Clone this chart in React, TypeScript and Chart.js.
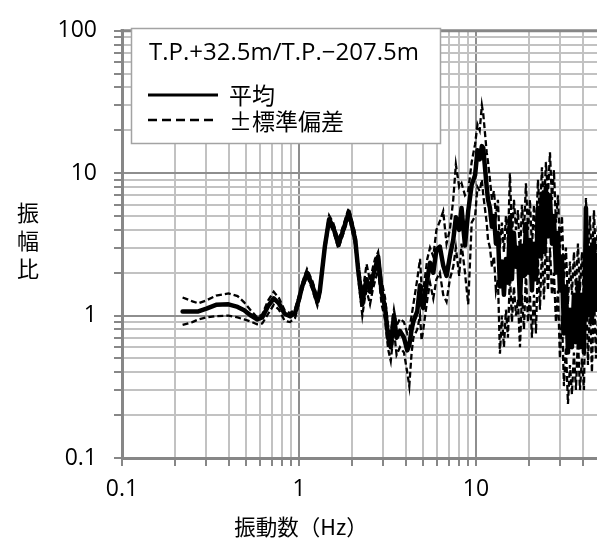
import React, { useEffect, useRef } from 'react';
import { Chart, registerables } from 'chart.js';

Chart.register(...registerables);

// Frequency grid (Hz) shared by the three curves
const freq = [
  0.22, 0.25, 0.27, 0.30, 0.34, 0.40, 0.45, 0.49, 0.53, 0.58, 0.62, 0.67, 0.72, 0.77, 0.83, 0.89, 0.95,
  1.00, 1.04, 1.11, 1.19, 1.27, 1.31, 1.40, 1.48, 1.56, 1.67, 1.78, 1.91, 1.98, 2.08, 2.16, 2.28, 2.35,
  2.41, 2.52, 2.62, 2.69, 2.80, 2.93, 3.06, 3.19, 3.30, 3.44, 3.56, 3.72, 3.92, 4.09, 4.20, 4.33, 4.43,
  4.66, 4.83, 4.93, 5.04, 5.31, 5.50, 5.74, 5.98, 6.25, 6.53, 6.82, 7.12, 7.44, 7.70, 8.04, 8.29, 8.67,
  9.04, 9.46, 9.89, 10.2, 10.5, 10.8, 11.0, 11.5, 11.7,
  12.0, 12.31, 12.64, 12.97, 13.31, 13.66, 14.02, 14.39, 14.77, 15.16, 15.56,
  15.97, 16.39, 16.83, 17.27, 17.73, 18.19, 18.67, 19.16, 19.67, 20.19, 20.72,
  21.27, 21.83, 22.40, 22.99, 23.60, 24.22, 24.86, 25.51, 26.19, 26.88, 27.58,
  28.31, 29.06, 29.82, 30.61, 31.42, 32.25, 33.10, 33.97, 34.86, 35.78, 36.73,
  37.69, 38.69, 39.71, 40.75, 41.83, 42.93, 44.06, 45.22, 46.42, 47.64, 48.90,
];

// Average spectral ratio
const meanRatio = [
  1.07, 1.07, 1.07, 1.12, 1.19, 1.20, 1.15, 1.09, 1.01, 0.94, 0.97, 1.17, 1.32, 1.22, 1.03, 0.99, 1.04,
  1.30, 1.59, 2.00, 1.63, 1.25, 1.47, 3.05, 4.75, 4.20, 3.15, 4.00, 5.30, 4.45, 3.40, 2.10, 1.20, 1.55,
  1.80, 1.47, 1.90, 2.12, 2.60, 1.47, 1.15, 0.70, 0.60, 1.00, 0.70, 0.78, 0.70, 0.57, 0.62, 0.80, 0.91,
  1.07, 1.63, 1.20, 1.13, 1.80, 2.35, 2.00, 2.90, 3.05, 2.25, 1.90, 2.60, 3.40, 4.90, 4.00, 5.70, 3.10,
  5.40, 8.30, 9.70, 14.5, 12.5, 15.5, 15.0, 8.00, 6.50,
  5.7, 4.2, 5.0, 3.2, 3.8, 1.6, 2.4, 1.4, 2.5, 1.7, 4.9,
  1.8, 3.8, 2.2, 3.0, 1.2, 3.1, 1.9, 4.4, 2.0, 3.4, 1.5,
  3.2, 1.8, 5.7, 2.6, 7.2, 2.8, 8.0, 3.6, 7.0, 3.2, 5.0,
  2.0, 3.8, 1.5, 2.6, 0.75, 1.6, 0.55, 1.1, 0.6, 1.4, 0.65,
  1.7, 0.6, 1.4, 0.55, 5.7, 1.0, 3.0, 0.9, 3.4, 1.1, 2.6,
];

// Average + one standard deviation
const upperRatio = [
  1.34, 1.26, 1.22, 1.28, 1.38, 1.43, 1.37, 1.24, 1.10, 0.97, 1.02, 1.28, 1.47, 1.33, 1.09, 1.04, 1.11,
  1.38, 1.68, 2.12, 1.75, 1.35, 1.58, 3.25, 5.05, 4.50, 3.40, 4.30, 5.70, 4.80, 3.75, 2.35, 1.40, 1.85,
  2.30, 1.75, 2.20, 2.50, 2.80, 1.75, 1.35, 0.85, 0.75, 1.10, 0.85, 0.95, 0.90, 0.75, 0.80, 1.00, 1.20,
  1.80, 2.50, 1.60, 1.50, 2.50, 3.00, 2.60, 4.00, 4.60, 5.40, 3.20, 4.00, 6.50, 11.5, 8.00, 8.50, 7.00,
  7.50, 12.0, 16.0, 22.0, 20.0, 30.0, 26.0, 14.0, 12.0,
  9.0, 6.5, 7.5, 5.0, 6.5, 3.0, 4.5, 2.8, 5.0, 3.2, 10.0,
  3.5, 6.5, 4.0, 5.5, 2.6, 6.0, 3.8, 8.5, 4.0, 6.5, 3.0,
  6.0, 3.5, 9.0, 5.0, 11.0, 5.5, 12.0, 7.0, 14.0, 6.5, 10.5,
  4.5, 7.0, 3.0, 5.0, 1.8, 3.0, 1.2, 2.4, 1.4, 2.8, 1.5,
  3.2, 1.5, 2.8, 1.3, 6.7, 2.5, 5.0, 2.2, 5.5, 2.4, 4.5,
];

// Average - one standard deviation
const lowerRatio = [
  0.86, 0.90, 0.94, 0.97, 0.99, 1.00, 0.97, 0.94, 0.91, 0.87, 0.88, 1.03, 1.19, 1.10, 0.92, 0.90, 0.96,
  1.22, 1.50, 1.90, 1.52, 1.17, 1.38, 2.85, 4.45, 3.95, 2.95, 3.75, 4.95, 4.15, 3.10, 1.85, 1.00, 1.30,
  1.50, 1.20, 1.55, 1.75, 2.10, 1.20, 0.95, 0.58, 0.48, 0.80, 0.53, 0.60, 0.55, 0.40, 0.32, 0.55, 0.70,
  0.80, 1.00, 0.67, 0.80, 1.30, 1.70, 1.32, 1.80, 2.00, 1.40, 1.25, 1.80, 2.20, 3.00, 1.90, 3.20, 2.00,
  1.20, 4.50, 5.00, 8.00, 7.50, 9.00, 7.00, 4.50, 3.40,
  3.0, 2.2, 2.6, 1.5, 1.8, 0.54, 1.0, 0.6, 1.1, 0.7, 2.0,
  0.9, 1.6, 1.0, 1.3, 0.6, 1.4, 0.8, 2.0, 0.9, 1.4, 0.7,
  1.4, 0.75, 2.5, 1.1, 3.0, 1.3, 3.5, 1.5, 3.0, 1.4, 2.0,
  0.9, 1.5, 0.5, 1.0, 0.32, 0.6, 0.24, 0.45, 0.28, 0.55, 0.3,
  0.7, 0.3, 0.5, 0.3, 2.0, 0.45, 1.2, 0.4, 1.5, 0.5, 1.0,
];

const seriesLabels = ['平均', '±標準偏差'];
const legendTitle = 'T.P.+32.5m/T.P.−207.5m';
const xTitle = '振動数（Hz）';
const yTitleChars = ['振', '幅', '比'];
const mantissas = [1, 2, 3, 4, 5, 6, 7, 8, 9];
const decadeExps = [-1, 0, 1, 2];

const LATIN = '"Open Sans", "Noto Sans", sans-serif';
const CJK = '"Noto Sans CJK JP", "Open Sans", sans-serif';
const MAJOR_GRID = '#8e8e8e';
const MINOR_GRID = '#c2c2c2';
const FRAME = '#878787';

const isDecade = (v: number) => Math.abs(Math.log10(v) - Math.round(Math.log10(v))) < 1e-6;

const logTicks = (scale: any) => {
  const out: { value: number }[] = [];
  for (const e of decadeExps) {
    for (const m of mantissas) {
      const v = Number((m * Math.pow(10, e)).toPrecision(3));
      if (v >= scale.min - 1e-9 && v <= scale.max + 1e-9) out.push({ value: v });
    }
  }
  scale.ticks = out;
};

const toPoints = (ys: number[]) => freq.map((f, i) => ({ x: f, y: ys[i] }));

const decorations = {
  id: 'decorations',
  afterDraw(chart: any) {
    const { ctx, chartArea } = chart;
    ctx.save();

    // top edge of the plot frame
    ctx.strokeStyle = FRAME;
    ctx.lineWidth = 3;
    ctx.beginPath();
    ctx.moveTo(chartArea.left - 1.5, chartArea.top);
    ctx.lineTo(chartArea.right, chartArea.top);
    ctx.stroke();

    // legend box
    const bx = 131, by = 28, bw = 309, bh = 115;
    ctx.fillStyle = '#ffffff';
    ctx.fillRect(bx, by, bw, bh);
    ctx.strokeStyle = '#a3a3a3';
    ctx.lineWidth = 1.5;
    ctx.strokeRect(bx + 0.5, by + 0.5, bw, bh);

    ctx.fillStyle = '#000';
    ctx.textBaseline = 'middle';
    ctx.textAlign = 'left';
    ctx.font = `24px ${LATIN}`;
    ctx.fillText(legendTitle, 149, 53);

    ctx.strokeStyle = '#000';
    ctx.lineWidth = 3;
    ctx.beginPath();
    ctx.moveTo(148, 95);
    ctx.lineTo(218, 95);
    ctx.stroke();

    ctx.lineWidth = 2.3;
    ctx.setLineDash([9, 5]);
    ctx.beginPath();
    ctx.moveTo(148, 120);
    ctx.lineTo(218, 120);
    ctx.stroke();
    ctx.setLineDash([]);

    ctx.font = `23px ${CJK}`;
    ctx.fillText(seriesLabels[0], 229, 95);
    ctx.fillText(seriesLabels[1], 229, 121);

    // axis titles
    ctx.textAlign = 'center';
    ctx.font = `21.5px ${CJK}`;
    ctx.fillText(xTitle, 301, 527);
    ctx.font = `22px ${CJK}`;
    yTitleChars.forEach((c, i) => ctx.fillText(c, 28, 213 + i * 28));

    ctx.restore();
  },
};

export default function App() {
  const ref = useRef<HTMLCanvasElement | null>(null);

  useEffect(() => {
    if (!ref.current) return;
    const gridOpts = {
      color: (c: any) => (c.tick && isDecade(c.tick.value) ? MAJOR_GRID : MINOR_GRID),
      lineWidth: 2,
      tickLength: 8,
      tickColor: FRAME,
      tickWidth: 2,
    };
    const tickLabel = (v: any) => (isDecade(Number(v)) ? String(Number(v)) : '');
    const chart = new Chart(ref.current, {
      type: 'line',
      data: {
        datasets: [
          {
            label: seriesLabels[1] + '+',
            data: toPoints(upperRatio),
            borderColor: '#000',
            borderWidth: 2.3,
            borderDash: [6, 3],
            pointRadius: 0,
            tension: 0,
          },
          {
            label: seriesLabels[1] + '-',
            data: toPoints(lowerRatio),
            borderColor: '#000',
            borderWidth: 2.3,
            borderDash: [6, 3],
            pointRadius: 0,
            tension: 0,
          },
          {
            label: seriesLabels[0],
            data: toPoints(meanRatio),
            borderColor: '#000',
            borderWidth: 4.5,
            borderJoinStyle: 'round',
            borderCapStyle: 'round',
            pointRadius: 0,
            tension: 0,
          },
        ],
      },
      options: {
        animation: false,
        responsive: false,
        devicePixelRatio: 1,
        layout: { padding: { top: 19, left: 0, right: 0, bottom: 0 } },
        plugins: { legend: { display: false }, tooltip: { enabled: false } },
        scales: {
          x: {
            type: 'logarithmic',
            min: 0.1,
            max: 48.3,
            afterBuildTicks: logTicks,
            afterFit: (s: any) => { s.height = 84; },
            grid: gridOpts,
            border: { color: FRAME, width: 3 },
            ticks: {
              autoSkip: false,
              maxRotation: 0,
              padding: 10,
              color: '#000',
              font: { family: LATIN, size: 23 },
              callback: tickLabel,
            },
          },
          y: {
            type: 'logarithmic',
            min: 0.1,
            max: 100,
            afterBuildTicks: logTicks,
            afterFit: (s: any) => { s.width = 122; },
            grid: gridOpts,
            border: { color: FRAME, width: 3 },
            ticks: {
              autoSkip: false,
              padding: 17,
              color: '#000',
              font: { family: LATIN, size: 23 },
              callback: tickLabel,
            },
          },
        },
      },
      plugins: [decorations],
    });
    return () => chart.destroy();
  }, []);

  return (
    <div style={{ position: 'fixed', left: 0, top: 0, width: 597, height: 542, background: '#fff' }}>
      <canvas ref={ref} width={597} height={542} />
    </div>
  );
}
